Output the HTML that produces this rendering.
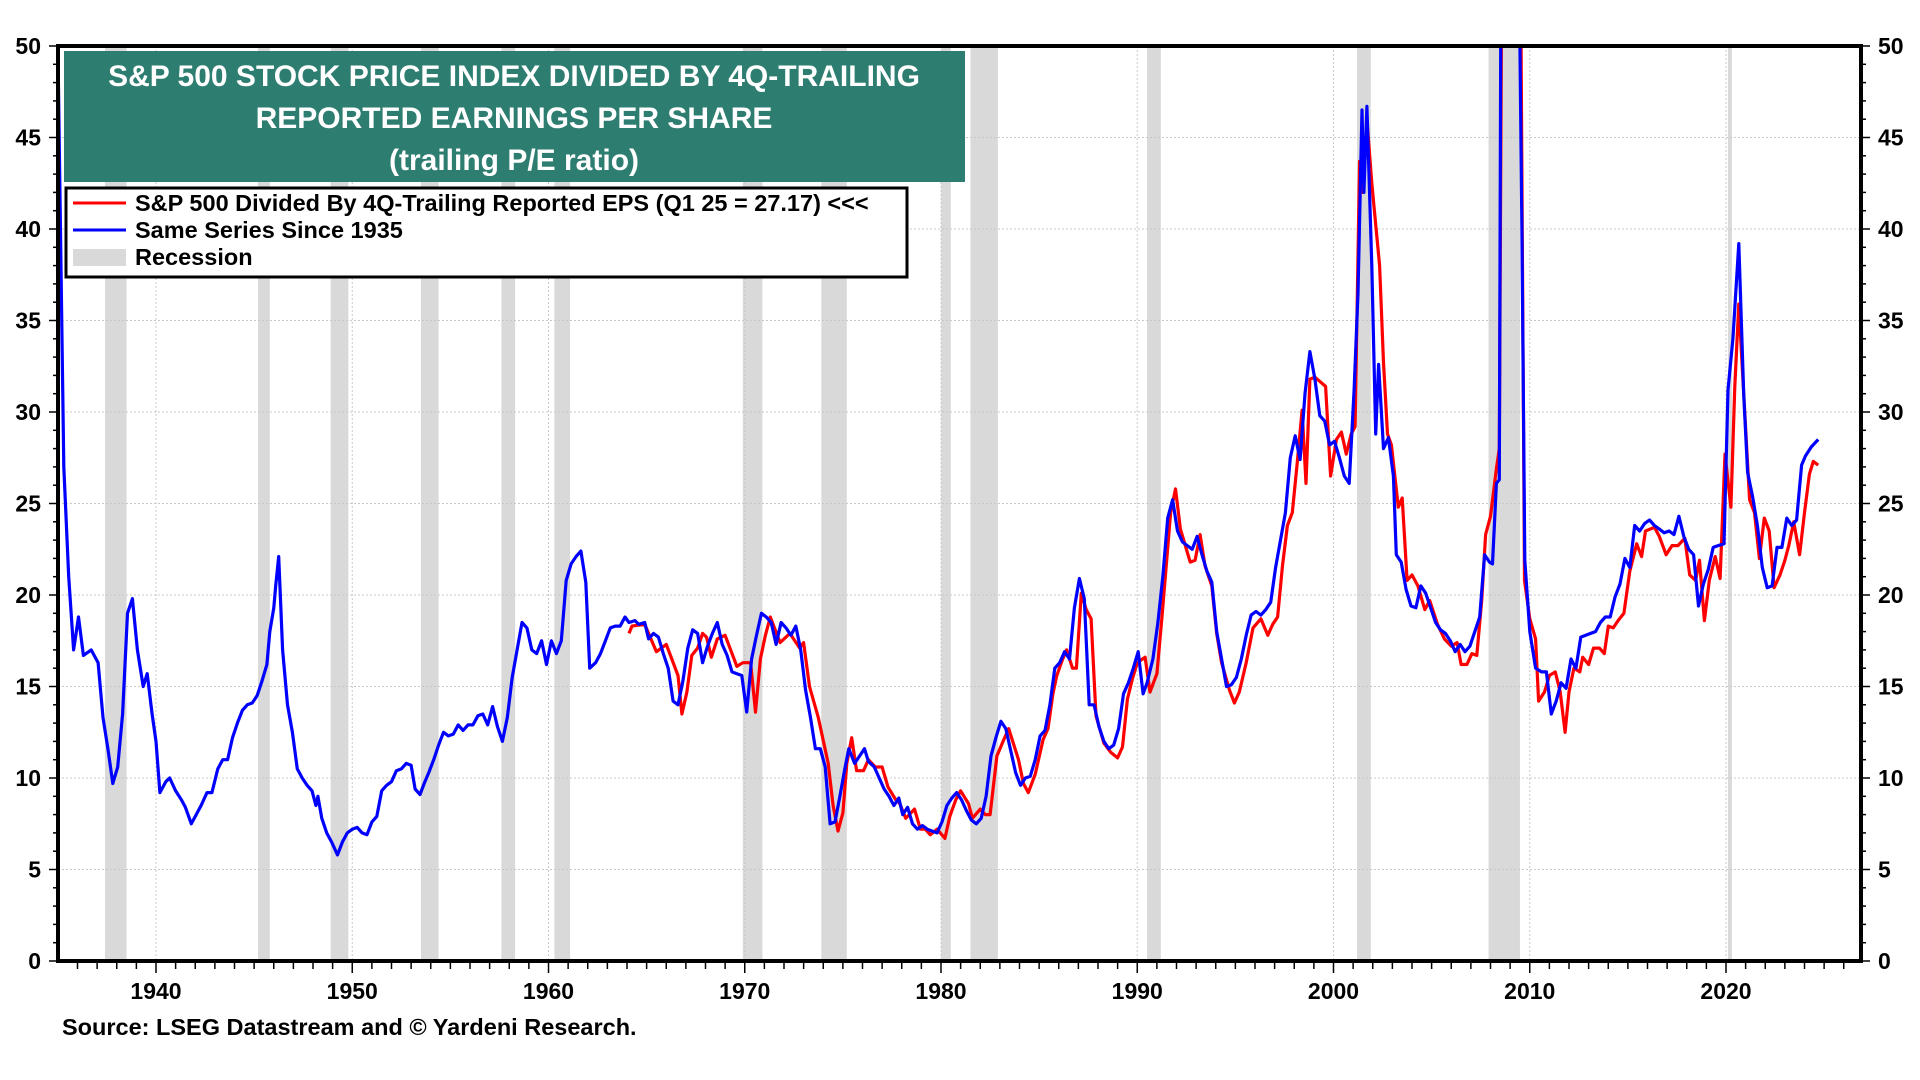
<!DOCTYPE html>
<html><head><meta charset="utf-8"><style>
html,body{margin:0;padding:0;background:#fff;}
svg{display:block;font-family:"Liberation Sans",Arial,sans-serif;}
</style></head><body>
<svg id="chart" width="1920" height="1080" viewBox="0 0 1920 1080">
<defs><clipPath id="plotclip"><rect x="58" y="46" width="1803" height="915"/></clipPath></defs>
<g id="recessions" clip-path="url(#plotclip)"></g>
<g id="grid"></g>
<g id="series" clip-path="url(#plotclip)"></g>
<g id="axes"></g>
<g>
<rect x="64" y="51" width="901" height="131" fill="#2e7d71"/>
<text x="514" y="86" text-anchor="middle" fill="#fff" font-weight="bold" font-size="30">S&amp;P 500 STOCK PRICE INDEX DIVIDED BY 4Q-TRAILING</text>
<text x="514" y="128" text-anchor="middle" fill="#fff" font-weight="bold" font-size="30">REPORTED EARNINGS PER SHARE</text>
<text x="514" y="170" text-anchor="middle" fill="#fff" font-weight="bold" font-size="30">(trailing P/E ratio)</text>
</g>
<g>
<rect x="66" y="188" width="841" height="89" fill="#fff" stroke="#000" stroke-width="3"/>
<g><line x1="73" y1="203" x2="126" y2="203" stroke="#f00" stroke-width="3"/><text x="135" y="211" font-size="23.5" font-weight="bold">S&amp;P 500 Divided By 4Q-Trailing Reported EPS (Q1 25 = 27.17) &lt;&lt;&lt;</text></g>
<g><line x1="73" y1="230" x2="126" y2="230" stroke="#00f" stroke-width="3"/><text x="135" y="238" font-size="23.5" font-weight="bold">Same Series Since 1935</text></g>
<g><rect x="73" y="249" width="53" height="17" fill="#d9d9d9"/><text x="135" y="265" font-size="23.5" font-weight="bold">Recession</text></g>
</g>
<text x="62" y="1035" font-size="23.5" font-weight="bold">Source: LSEG Datastream and © Yardeni Research.</text>
</svg>
<script>
const recStart=[1937.4,1945.2,1948.9,1953.5,1957.6,1960.3,1969.9,1973.9,1980.0,1981.5,1990.5,2001.2,2007.9,2020.1];
const recEnd=[1938.5,1945.8,1949.8,1954.4,1958.3,1961.1,1970.9,1975.2,1980.5,1982.9,1991.2,2001.9,2009.5,2020.3];
const yTicks=[0,5,10,15,20,25,30,35,40,45,50];
const xTicks=[1940,1950,1960,1970,1980,1990,2000,2010,2020];
const blueYears=[1935.0,1935.3,1935.55,1935.8,1936.05,1936.3,1936.7,1937.05,1937.3,1937.55,1937.8,1938.05,1938.3,1938.55,1938.8,1939.05,1939.35,1939.55,1939.8,1940.0,1940.2,1940.5,1940.7,1941.0,1941.3,1941.5,1941.8,1942.0,1942.3,1942.6,1942.85,1943.15,1943.4,1943.65,1943.9,1944.15,1944.4,1944.65,1944.9,1945.15,1945.4,1945.65,1945.8,1946.0,1946.1,1946.25,1946.45,1946.7,1946.95,1947.2,1947.45,1947.7,1947.95,1948.15,1948.25,1948.45,1948.7,1948.95,1949.25,1949.5,1949.75,1950.0,1950.25,1950.5,1950.75,1951.0,1951.25,1951.5,1951.75,1952.0,1952.25,1952.5,1952.75,1953.0,1953.2,1953.45,1953.7,1953.9,1954.15,1954.4,1954.65,1954.9,1955.15,1955.4,1955.65,1955.9,1956.15,1956.4,1956.65,1956.9,1957.15,1957.4,1957.65,1957.9,1958.15,1958.4,1958.65,1958.9,1959.15,1959.4,1959.65,1959.9,1960.15,1960.4,1960.65,1960.9,1961.15,1961.4,1961.65,1961.9,1962.1,1962.4,1962.65,1962.9,1963.15,1963.4,1963.65,1963.9,1964.1,1964.4,1964.6,1964.9,1965.1,1965.35,1965.6,1965.85,1966.1,1966.35,1966.6,1966.85,1967.1,1967.35,1967.6,1967.85,1968.1,1968.35,1968.6,1968.85,1969.1,1969.35,1969.6,1969.85,1970.1,1970.35,1970.6,1970.85,1971.1,1971.35,1971.6,1971.85,1972.1,1972.35,1972.6,1972.85,1973.1,1973.35,1973.6,1973.85,1974.1,1974.35,1974.6,1974.85,1975.1,1975.3,1975.6,1975.85,1976.1,1976.3,1976.6,1976.85,1977.1,1977.35,1977.6,1977.85,1978.05,1978.3,1978.55,1978.8,1979.05,1979.3,1979.55,1979.8,1980.05,1980.3,1980.55,1980.8,1981.05,1981.3,1981.55,1981.8,1982.05,1982.3,1982.55,1982.8,1983.05,1983.3,1983.55,1983.8,1984.05,1984.3,1984.55,1984.8,1985.05,1985.3,1985.55,1985.8,1986.05,1986.3,1986.55,1986.8,1987.05,1987.3,1987.55,1987.8,1988.05,1988.3,1988.55,1988.8,1989.05,1989.3,1989.55,1989.8,1990.05,1990.3,1990.5,1990.8,1991.05,1991.3,1991.55,1991.8,1992.05,1992.3,1992.55,1992.8,1993.05,1993.3,1993.55,1993.8,1994.05,1994.3,1994.55,1994.8,1995.05,1995.3,1995.55,1995.8,1996.05,1996.3,1996.55,1996.8,1997.05,1997.3,1997.55,1997.8,1998.05,1998.3,1998.55,1998.8,1999.05,1999.3,1999.55,1999.8,2000.05,2000.3,2000.55,2000.8,2001.05,2001.25,2001.45,2001.55,2001.7,2001.95,2002.15,2002.3,2002.55,2002.8,2003.05,2003.2,2003.45,2003.7,2003.95,2004.2,2004.45,2004.7,2004.95,2005.2,2005.45,2005.7,2005.95,2006.2,2006.45,2006.7,2006.95,2007.2,2007.45,2007.7,2007.95,2008.1,2008.3,2008.45,2008.55,2008.8,2009.1,2009.6,2009.75,2010.0,2010.3,2010.6,2010.85,2011.1,2011.35,2011.6,2011.85,2012.1,2012.35,2012.6,2012.85,2013.1,2013.35,2013.6,2013.85,2014.1,2014.35,2014.6,2014.85,2015.1,2015.35,2015.6,2015.85,2016.1,2016.35,2016.6,2016.85,2017.1,2017.35,2017.6,2017.85,2018.1,2018.35,2018.6,2018.85,2019.1,2019.35,2019.6,2019.9,2020.1,2020.35,2020.65,2020.9,2021.1,2021.35,2021.6,2021.85,2022.1,2022.35,2022.6,2022.85,2023.1,2023.35,2023.6,2023.85,2024.05,2024.35,2024.7];
const blueValues=[50,27,21,17,18.8,16.7,17,16.3,13.3,11.6,9.7,10.6,13.5,19,19.8,17,15,15.7,13.5,12,9.2,9.8,10,9.3,8.8,8.4,7.5,7.9,8.5,9.2,9.2,10.5,11,11,12.2,13,13.7,14,14.1,14.5,15.3,16.2,18,19.3,20.5,22.1,17,14,12.5,10.5,10,9.6,9.3,8.5,9,7.8,7,6.5,5.8,6.5,7,7.2,7.3,7,6.9,7.6,7.9,9.3,9.6,9.8,10.4,10.5,10.8,10.7,9.4,9.1,9.8,10.3,11,11.8,12.5,12.3,12.4,12.9,12.6,12.9,12.9,13.4,13.5,12.9,13.9,12.8,12,13.3,15.5,17,18.5,18.2,17,16.8,17.5,16.2,17.5,16.8,17.5,20.8,21.7,22.1,22.4,20.7,16,16.3,16.8,17.5,18.2,18.3,18.3,18.8,18.5,18.6,18.4,18.5,17.6,17.9,17.7,16.8,16,14.2,14,15.3,17.1,18.1,17.9,16.3,17.2,17.9,18.5,17.3,16.7,15.8,15.7,15.6,13.6,16.5,17.8,19,18.8,18.5,17.3,18.5,18.2,17.8,18.3,17,14.8,13.3,11.6,11.6,10.6,7.5,7.6,9,10.5,11.6,10.8,11.2,11.6,10.9,10.6,10,9.4,9,8.5,8.9,8,8.4,7.5,7.2,7.4,7.2,7.1,7,7.6,8.5,8.9,9.2,8.8,8.2,7.7,7.5,7.8,9,11.2,12.2,13.1,12.7,11.5,10.3,9.6,10,10.1,11,12.3,12.6,14,16,16.3,16.9,16.5,19.3,20.9,19.8,14,14,12.8,12,11.6,11.8,12.7,14.6,15.2,16,16.9,14.6,15.2,16.5,18.5,21,24.2,25.2,23.5,22.9,22.7,22.5,23.2,22.2,21.3,20.7,18,16.5,15,15.1,15.5,16.5,17.8,18.9,19.1,18.9,19.2,19.6,21.5,23,24.5,27.5,28.7,27.4,31,33.3,31.8,29.8,29.5,28.2,28.4,27.5,26.5,26.1,31.2,36.5,46.5,42,46.7,38,28.8,32.6,28,28.6,26.5,22.2,21.8,20.3,19.4,19.3,20.5,20.1,19.3,18.5,18.1,17.9,17.5,16.9,17.3,16.9,17.2,18,18.8,22.2,21.8,21.7,26.1,26.3,60,120,90,40,21.9,18,16,15.8,15.8,13.5,14.2,15.2,14.9,16.5,16,17.7,17.8,17.9,18,18.5,18.8,18.8,19.9,20.6,22,21.5,23.8,23.5,23.9,24.1,23.8,23.6,23.4,23.5,23.3,24.3,23.2,22.5,22.2,19.4,20.6,21.4,22.6,22.7,22.8,31.2,34,39.2,31,26.7,25.4,23.8,21.5,20.4,20.5,22.6,22.6,24.2,23.8,24.1,27.1,27.6,28.1,28.5];
const redYears=[1964.1,1964.25,1964.9,1965.5,1966.0,1966.6,1966.8,1967.05,1967.3,1967.6,1967.85,1968.05,1968.3,1968.6,1969.0,1969.6,1969.9,1970.3,1970.55,1970.8,1971.05,1971.3,1971.8,1972.3,1972.8,1973.0,1973.3,1973.75,1974.25,1974.5,1974.75,1975.0,1975.2,1975.45,1975.7,1976.05,1976.3,1976.65,1977.0,1977.3,1977.7,1977.9,1978.2,1978.65,1978.95,1979.2,1979.45,1979.8,1980.2,1980.45,1980.75,1981.0,1981.4,1981.6,1982.0,1982.25,1982.5,1982.85,1983.2,1983.45,1983.95,1984.2,1984.45,1984.8,1985.2,1985.45,1985.7,1985.9,1986.2,1986.4,1986.7,1986.9,1987.15,1987.4,1987.65,1987.9,1988.3,1988.65,1989.0,1989.25,1989.5,1989.75,1990.0,1990.4,1990.65,1991.0,1991.25,1991.5,1991.7,1991.95,1992.2,1992.7,1992.95,1993.2,1993.45,1993.8,1994.05,1994.3,1994.7,1994.95,1995.2,1995.55,1995.9,1996.3,1996.65,1996.9,1997.15,1997.4,1997.65,1997.9,1998.15,1998.4,1998.6,1998.8,1999.05,1999.6,1999.85,2000.15,2000.4,2000.65,2000.9,2001.1,2001.33,2001.5,2001.7,2001.95,2002.35,2002.55,2002.75,2002.95,2003.3,2003.5,2003.75,2004.0,2004.3,2004.65,2004.9,2005.3,2005.65,2006.0,2006.3,2006.5,2006.8,2007.05,2007.3,2007.55,2007.75,2008.0,2008.3,2008.45,2008.6,2009.0,2009.5,2009.73,2010.0,2010.3,2010.45,2010.75,2011.0,2011.3,2011.55,2011.8,2012.0,2012.25,2012.55,2012.7,2013.0,2013.25,2013.55,2013.8,2014.0,2014.25,2014.5,2014.8,2015.1,2015.45,2015.7,2015.9,2016.35,2016.6,2016.95,2017.25,2017.55,2017.9,2018.15,2018.45,2018.65,2018.9,2019.15,2019.45,2019.7,2019.95,2020.25,2020.45,2020.65,2020.95,2021.2,2021.45,2021.7,2021.95,2022.2,2022.45,2022.75,2023.0,2023.2,2023.45,2023.75,2024.0,2024.25,2024.45,2024.7];
const redValues=[17.9,18.3,18.4,16.9,17.3,15.6,13.5,14.7,16.7,17.1,17.9,17.7,16.6,17.6,17.8,16.1,16.3,16.3,13.6,16.5,17.8,18.8,17.4,17.9,17.1,17.4,15.0,13.3,10.8,8.5,7.1,8.1,10.8,12.2,10.4,10.4,11,10.6,10.6,9.5,8.8,8.6,7.8,8.3,7.2,7.2,6.9,7.2,6.7,7.9,8.8,9.3,8.6,7.8,8.3,8,8,11.2,12.1,12.7,11,9.7,9.2,10.2,12.1,12.7,14.6,15.6,16.5,17,16,16,20.1,19.2,18.7,13.4,11.9,11.4,11.1,11.7,14.3,15.4,16.3,16.6,14.7,15.7,18.7,21.9,24.5,25.8,23.6,21.8,21.9,23.3,21.6,20.5,17.9,16.3,14.8,14.1,14.7,16.3,18.2,18.7,17.8,18.4,18.8,21.6,23.8,24.5,27.2,30.1,26.1,31.8,31.9,31.4,26.5,28.5,28.9,27.7,28.8,29.2,43.7,42,46,42.5,38,32.7,28.8,28.2,24.8,25.3,20.8,21.1,20.5,19.2,19.7,18.4,17.6,17.2,17.4,16.2,16.2,16.8,16.7,19.7,23.3,24.3,26.9,28,60,110,60,20.8,18.7,17.6,14.2,14.7,15.6,15.8,14.7,12.5,14.7,16,15.8,16.6,16.2,17.1,17.1,16.8,18.3,18.2,18.6,19,21.3,22.8,22.1,23.5,23.7,23.2,22.2,22.7,22.7,23.1,21.1,20.8,21.9,18.6,20.8,22.1,20.9,27.7,24.8,31.4,35.9,30.1,25.2,24.5,22,24.2,23.5,20.4,21.1,21.9,22.7,24,22.2,24.5,26.6,27.3,27.1];

const NS='http://www.w3.org/2000/svg';
const X0=58,X1=1861,Y0=961,Y1=46;
function xs(y){return 156+(y-1940)*19.625;}
function ys(v){return Y0-v/50*(Y0-Y1);}
function mk(tag,attrs,parent){const e=document.createElementNS(NS,tag);for(const k in attrs)e.setAttribute(k,attrs[k]);parent.appendChild(e);return e;}
const rec=document.getElementById('recessions');
for(let i=0;i<recStart.length;i++){
  const r=mk('rect',{x:xs(recStart[i]),y:Y1,width:xs(recEnd[i])-xs(recStart[i]),height:Y0-Y1,fill:'#d9d9d9'},rec);
  
  
}
const grid=document.getElementById('grid');
yTicks.forEach(t=>{if(t>0&&t<50){const l=mk('line',{x1:X0,x2:X1,y1:ys(t),y2:ys(t),stroke:'#c8c8c8','stroke-width':1,'stroke-dasharray':'2,2'},grid);

}});
xTicks.forEach(t=>{const l=mk('line',{x1:xs(t),x2:xs(t),y1:Y1,y2:Y0,stroke:'#c8c8c8','stroke-width':1,'stroke-dasharray':'2,2'},grid);

});
const ser=document.getElementById('series');
function line(xsA,vs,color,name){
  const d=xsA.map((y,i)=>(i?'L':'M')+xs(y).toFixed(1)+','+ys(vs[i]).toFixed(1)).join('');
  const p=mk('path',{d:d,fill:'none',stroke:color,'stroke-width':3.2,'stroke-linejoin':'round'},ser);
  
  
}
line(redYears,redValues,'#ff0000','sp500-pe-line');
line(blueYears,blueValues,'#0000ff','same-series-since-1935-line');
const ax=document.getElementById('axes');
mk('rect',{x:X0,y:Y1,width:X1-X0,height:Y0-Y1,fill:'none',stroke:'#000','stroke-width':4},ax);
for(let v=0;v<=50;v++){
  const len=(v%5===0)?9:5;
  mk('line',{x1:X0-len,x2:X0,y1:ys(v),y2:ys(v),stroke:'#000','stroke-width':1.5},ax);
  mk('line',{x1:X1,x2:X1+len,y1:ys(v),y2:ys(v),stroke:'#000','stroke-width':1.5},ax);
}
for(let y=1936;y<=2026;y++){
  const len=(y%10===0)?12:8;
  mk('line',{x1:xs(y),x2:xs(y),y1:Y0,y2:Y0+len,stroke:'#000','stroke-width':1.5},ax);
}
yTicks.forEach(t=>{
  const a=mk('text',{x:41,y:ys(t)+8,'text-anchor':'end','font-size':23,'font-weight':'bold'},ax);a.textContent=t;
  
  
  const b=mk('text',{x:1878,y:ys(t)+8,'text-anchor':'start','font-size':23,'font-weight':'bold'},ax);b.textContent=t;
  
  
});
xTicks.forEach(t=>{
  const a=mk('text',{x:xs(t),y:Y0+38,'text-anchor':'middle','font-size':23,'font-weight':'bold'},ax);a.textContent=t;
  
  
});
</script>
</body></html>
